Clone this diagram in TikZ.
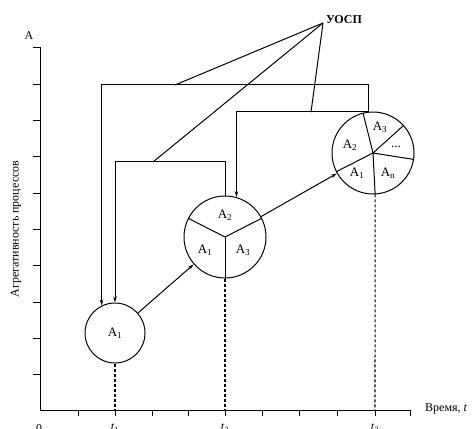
\documentclass[tikz,border=0pt]{standalone}
\usepackage{fontspec}
\setmainfont{Liberation Serif}
\usetikzlibrary{arrows.meta,calc}
\begin{document}
\begin{tikzpicture}[x=1pt,y=-1pt,
  every node/.style={font=\fontsize{12}{14}\selectfont},
  ln/.style={line width=1pt},
  circ/.style={draw,circle,line width=1pt,inner sep=0pt},
  arr/.style={ln,-{Stealth[length=6pt,width=3.5pt]}},
  dsh/.style={line width=1.1pt,dash pattern=on 3pt off 2pt},
  lbl/.style={inner sep=0pt,font=\fontsize{13}{15}\selectfont}]
\useasboundingbox (0,0) rectangle (473,428);
% axes
\draw[ln] (33,48) -- (40,48) -- (40,410) -- (410,410);
\foreach \y in {84.3,120.6,156.9,193.2,229.5,265.8,302.1,338.4,374.7}
  \draw[ln] (33,\y) -- (40,\y);
\foreach \x in {78,115,152,188,225,262,299,337,375,410}
  \draw[ln] (\x,410) -- (\x,416);
\node (ylab) at (29,36) {A};
\node[rotate=90] (yax) at (16,229) {Агрегативность процессов};
\node[anchor=west,inner sep=0pt] (xax) at (425,409) {Время, \textit{t}};
\node[anchor=north,inner sep=0pt] (o) at (39,424) {0};
\node[anchor=north,inner sep=0pt] (t1) at (115,424) {\textit{t}\textsubscript{1}};
\node[anchor=north,inner sep=0pt] (t2) at (225,424) {\textit{t}\textsubscript{2}};
\node[anchor=north,inner sep=0pt] (t3) at (375,424) {\textit{t}\textsubscript{3}};
\coordinate (x1) at (115,410);
\coordinate (x2) at (225,410);
\coordinate (x3) at (375,410);
% circles
\node[circ,minimum size=60pt] (c1) at (115,333) {};
\node[lbl] (l11) at (115,333) {A\textsubscript{1}};
\node[circ,minimum size=82pt] (c2) at (225,237) {};
\node[circ,minimum size=82pt] (c3) at (373,153) {};
% sectors of circle 2
\draw[ln] (c2.center) -- (c2.270);
\draw[ln] (c2.center) -- (c2.153);
\draw[ln] (c2.center) -- (c2.27);
\node[lbl] (l22) at (225,215) {A\textsubscript{2}};
\node[lbl] (l21) at (205,250) {A\textsubscript{1}};
\node[lbl] (l23) at (243,250) {A\textsubscript{3}};
% sectors of circle 3
\draw[ln] (c3.center) -- (c3.104);
\draw[ln] (c3.center) -- (c3.42);
\draw[ln] (c3.center) -- (c3.-9);
\draw[ln] (c3.center) -- (c3.207);
\draw[ln] (c3.center) -- (c3.-87);
\node[lbl] (l33) at (380,127) {A\textsubscript{3}};
\node[lbl] (l3d) at (396,147) {...};
\node[lbl] (l3n) at (388,173) {A\textsubscript{n}};
\node[lbl] (l31) at (357,173) {A\textsubscript{1}};
\node[lbl] (l32) at (350,145) {A\textsubscript{2}};
% dashed projections
\draw[dsh] (c1.south) -- (x1);
\draw[dsh] (c2.south) -- (x2);
\draw[dsh] (c3.-87) -- (x3);
% transitions
\draw[arr] (c1) -- (c2);
\draw[arr] (c2) -- (c3);
% feedback loops
\draw[arr] (c3.96) -- ($(c3.96)+(0,-27)$) -| (c1.116);
\draw[arr] (c3.96) -| (c2.74);
\draw[arr] (c2.north) -- ($(c2.north)+(0,-34)$) -| (c1.north);
% UOSP
\node[anchor=west,inner sep=0pt,font=\bfseries\fontsize{12}{14}\selectfont] (uosp) at (326,20) {УОСП};
\coordinate (apex) at (323,23);
\coordinate (pa) at (175,85);
\coordinate (pb) at (153,162);
\coordinate (pc) at (311,112.2);
\draw[ln] (apex) -- (pa);
\draw[ln] (apex) -- (pb);
\draw[ln] (apex) -- (pc);
\end{tikzpicture}
\end{document}
